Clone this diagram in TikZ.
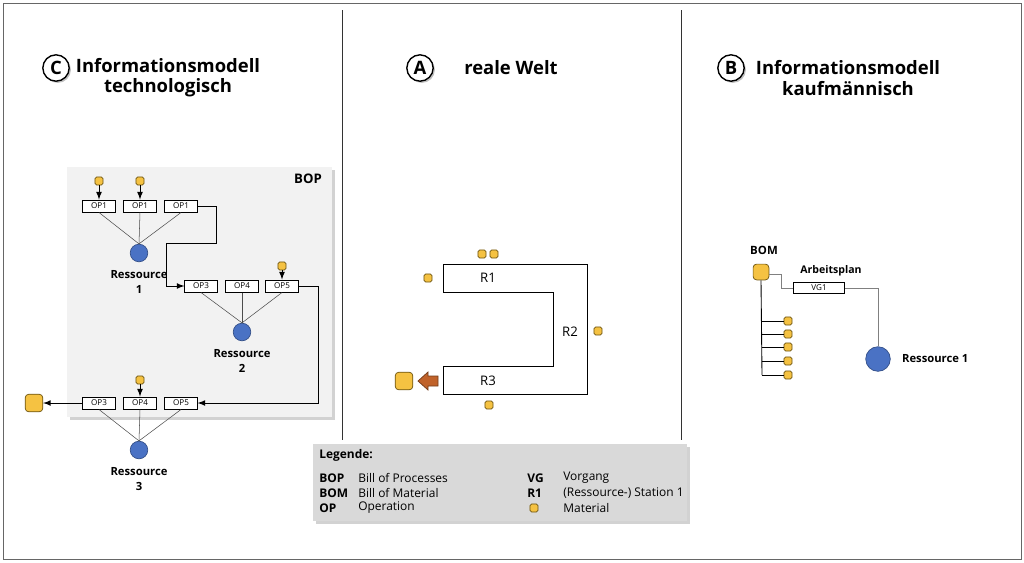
\documentclass[tikz,border=0pt]{standalone}
\usepackage{fontspec}
\setmainfont{Open Sans}
\usetikzlibrary{positioning,shadows}
\definecolor{matfill}{HTML}{F5C242}
\definecolor{matdraw}{HTML}{6B5310}
\definecolor{resfill}{HTML}{4A72C4}
\definecolor{panel}{HTML}{F2F2F2}
\definecolor{legfill}{HTML}{D9D9D9}
\definecolor{brownarr}{HTML}{C0622A}
\tikzset{
  mat/.style={draw=matdraw,fill=matfill,rounded corners=1pt,minimum size=4.6pt,inner sep=0pt},
  bigmat/.style={mat,minimum size=10pt,rounded corners=2pt},
  op/.style={draw,fill=white,minimum width=18.5pt,minimum height=7pt,inner sep=0pt,font=\fontsize{4.6}{5}\selectfont},
  res/.style={circle,fill=resfill,draw=resfill!70!black,minimum size=10pt,inner sep=0pt},
  reslbl/.style={font=\bfseries\fontsize{6.4}{8.8}\selectfont,align=center},
  head/.style={font=\bfseries\fontsize{10.5}{11.5}\selectfont,align=center},
  letter/.style={circle,draw,thick,fill=white,minimum size=15pt,inner sep=0pt,font=\bfseries\fontsize{10.5}{11}\selectfont,drop shadow={shadow xshift=1pt,shadow yshift=-1pt}},
  thin/.style={draw=black!70,line width=0.3pt},
  flow/.style={-latex,line width=0.5pt},
  lg/.style={font=\fontsize{6.8}{7}\selectfont,anchor=west,inner sep=0pt},
  lgb/.style={lg,font=\bfseries\fontsize{6.8}{7}\selectfont}
}
\begin{document}
\begin{tikzpicture}[x=0.02cm,y=-0.02cm]
\useasboundingbox (0,0) rectangle (1024,562);
\draw[black!60] (3,3) rectangle (1021,559);
% dividers
\draw[black!80,line width=0.5pt] (342,10) -- (342,440);
\draw[black!80,line width=0.5pt] (681,10) -- (681,440);
% headings
\node[letter] (c) at (56,68) {C};
\node[head] (ch) at (168,78) {Informationsmodell\\technologisch};
\node[letter] (a) at (420,68) {A};
\node[head] (ah) at (511,68) {reale Welt};
\node[letter] (b) at (731,68) {B};
\node[head] (bh) at (848,78) {Informationsmodell\\kaufmännisch};

%% C: bill of processes
\fill[panel,drop shadow={shadow xshift=1.5pt,shadow yshift=-1.5pt,fill=black!35}] (67,167) rectangle (332,417);
\node[font=\bfseries\fontsize{7.5}{8}\selectfont] (bop) at (308,179) {BOP};
\foreach \i/\x in {1/99,2/140,3/181}{
  \node[op] (o1\i) at (\x,206) {OP1};}
\foreach \i/\x/\t in {1/201/OP3,2/242/OP4,3/282/OP5}{
  \node[op] (o2\i) at (\x,286) {\t};}
\foreach \i/\x/\t in {1/99/OP3,2/140/OP4,3/181/OP5}{
  \node[op] (o3\i) at (\x,403) {\t};}
\node[res] (r1) at (139,253) {};
\node[res] (r2) at (242,332) {};
\node[res] (r3) at (139,450) {};
\node[reslbl,below=1pt of r1] {Ressource\\1};
\node[reslbl,below=1pt of r2] {Ressource\\2};
\node[reslbl,below=1pt of r3] {Ressource\\3};
\foreach \i in {1,2,3}{
  \draw[thin] (o1\i.south) -- (r1.north);
  \draw[thin] (o2\i.south) -- (r2.north);
  \draw[thin] (o3\i.south) -- (r3.north);}
\node[mat] (m1) at (99,181) {};
\node[mat] (m2) at (140,181) {};
\node[mat] (m3) at (282,266) {};
\node[mat] (m4) at (140,380) {};
\draw[flow] (m1) -- (o11);
\draw[flow] (m2) -- (o12);
\draw[flow] (m3) -- (o23);
\draw[flow] (m4) -- (o32);
\draw[flow] (o13.east) -- (216,206) -- (216,243) -- (166,243) -- (166,286) -- (o21.west);
\draw[flow] (o23.east) -- (318,286) -- (318,403) -- (o33.east);
\node[bigmat] (outc) at (34,403) {};
\draw[flow] (o31.west) -- (outc.east);

%% A: real world
\draw[line width=0.5pt] (443,264) -- (587,264) -- (587,394) -- (443,394) -- (443,366)
  -- (553,366) -- (553,292) -- (443,292) -- cycle;
\node[font=\fontsize{7.5}{8}\selectfont] (s1) at (488,278) {R1};
\node[font=\fontsize{7.5}{8}\selectfont] (s2) at (570,332) {R2};
\node[font=\fontsize{7.5}{8}\selectfont] (s3) at (488,381) {R3};
\foreach \n/\x/\y in {a1/482/254,a2/494/254,a3/428/278,a4/598/331,a5/489/405}{
  \node[mat] (\n) at (\x,\y) {};}
\node[bigmat] (outa) at (404,381) {};
\draw[fill=brownarr,draw=brownarr!60!black,line width=0.4pt] (438,376) -- (428,376) -- (428,372) -- (418,381)
  -- (428,390) -- (428,386) -- (438,386) -- cycle;

%% B: commercial model
\node[font=\bfseries\fontsize{6.5}{7}\selectfont] (bom) at (764,250) {BOM};
\node[bigmat,minimum size=9pt] (bm) at (761,272) {};
\node[op,minimum width=29pt,minimum height=6.5pt] (vg) at (819,288) {VG1};
\node[font=\bfseries\fontsize{6}{7}\selectfont] (ap) at (831,271) {Arbeitsplan};
\node[res,minimum size=14pt] (rb) at (878,359) {};
\node[reslbl,right=3pt of rb] {Ressource 1};
\draw[black!50,line width=0.5pt] (bm.east) ++(0,2) -| (781,288) -- (vg.west);
\draw[black!50,line width=0.5pt] (vg.east) -| (rb.north);
\draw[line width=0.5pt] (bm.south) -- (762,375);
\foreach \y in {321,334,347,361,375}{
  \node[mat] (b\y) at (788,\y) {};
  \draw[line width=0.5pt] (762,\y) -- (b\y.west);}

%% legend
\fill[legfill,drop shadow={shadow xshift=1.5pt,shadow yshift=-1.5pt,fill=black!35}] (313,444) rectangle (687,521);
\node[lgb] (lt) at (319,455) {Legende:};
\node[lgb] at (319,478) {BOP}; \node[lg] at (358,478) {Bill of Processes};
\node[lgb] at (319,493) {BOM}; \node[lg] at (358,493) {Bill of Material};
\node[lgb] at (319,508) {OP};  \node[lg] at (358,508) {Operation};
\node[lgb] at (527,478) {VG};  \node[lg] at (563,478) {Vorgang};
\node[lgb] at (527,493) {R1};  \node[lg] at (563,493) {(Ressource-) Station 1};
\node[mat] (lm) at (534,508) {}; \node[lg] at (563,508) {Material};
\end{tikzpicture}
\end{document}
